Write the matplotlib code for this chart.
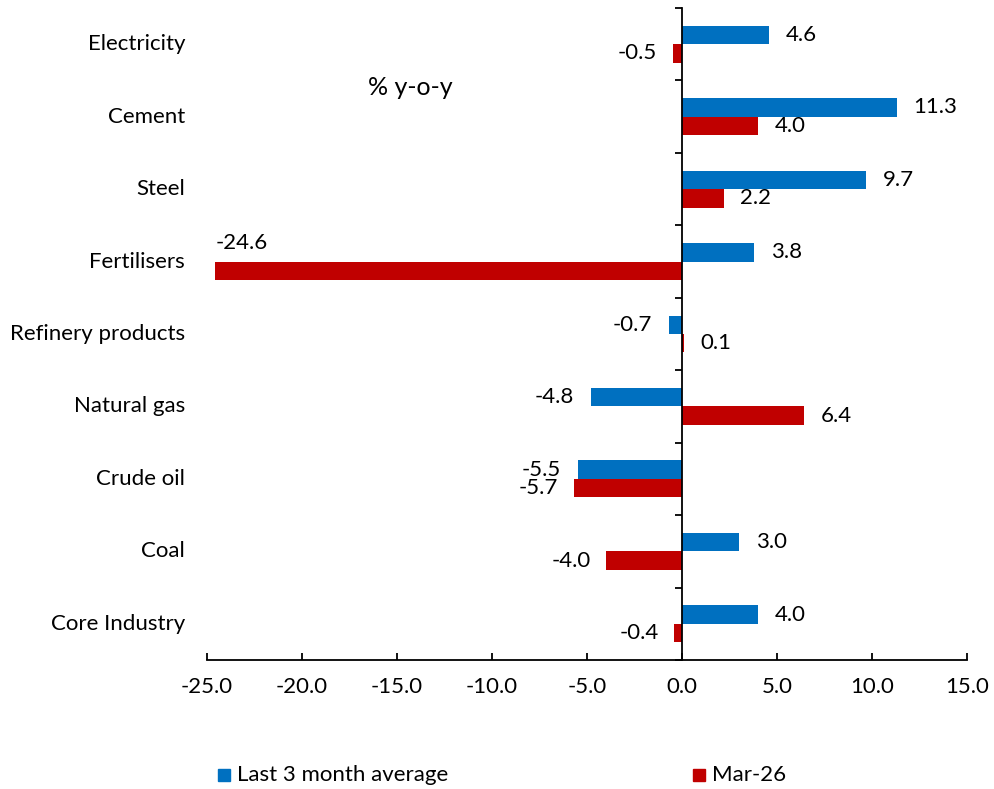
import numpy as np
import matplotlib.pyplot as plt
import matplotlib.transforms as mtransforms
from matplotlib.patches import Rectangle

plt.rcParams['font.family'] = ['Lato', 'DejaVu Sans']

categories = ['Electricity', 'Cement', 'Steel', 'Fertilisers', 'Refinery products',
              'Natural gas', 'Crude oil', 'Coal', 'Core Industry']
last3m = [4.6, 11.3, 9.7, 3.8, -0.7, -4.8, -5.5, 3.0, 4.0]
mar26 = [-0.5, 4.0, 2.2, -24.6, 0.1, 6.4, -5.7, -4.0, -0.4]
xticks = [-25, -20, -15, -10, -5, 0, 5, 10, 15]

blue = '#0070C0'
red = '#C00000'
fs = 16

fig = plt.figure(figsize=(9.94, 7.89), dpi=100)
ax = fig.add_axes([207 / 994, 1 - 660 / 789, 760 / 994, 652 / 789])

y = np.arange(len(categories))
h = 0.255
ax.barh(y - h / 2, last3m, height=h, color=blue)
ax.barh(y + h / 2, mar26, height=h, color=red)

ax.set_xlim(-25, 15)
ax.set_ylim(len(categories) - 0.5, -0.5)

# value labels
for yi, v in zip(y - h / 2, last3m):
    ax.annotate(f'{v:.1f}', (v, yi), xytext=(12 if v >= 0 else -12, 0),
                textcoords='offset points', ha='left' if v >= 0 else 'right',
                va='center', fontsize=fs)
for i, (yi, v) in enumerate(zip(y + h / 2, mar26)):
    if categories[i] == 'Fertilisers':
        ax.annotate(f'{v:.1f}', (v, yi), xytext=(1, 20), textcoords='offset points',
                    ha='left', va='center', fontsize=fs)
        continue
    ax.annotate(f'{v:.1f}', (v, yi), xytext=(12 if v >= 0 else -11, 0),
                textcoords='offset points', ha='left' if v >= 0 else 'right',
                va='center', fontsize=fs)

# category labels at left edge
trans = mtransforms.blended_transform_factory(ax.transAxes, ax.transData)
for yi, c in zip(y, categories):
    ax.text(-22 / 760, yi, c, transform=trans, ha='right', va='center', fontsize=fs)

ax.text(-14.3, 0.6, '% y-o-y', ha='center', va='center', fontsize=18)

for s in ['top', 'right']:
    ax.spines[s].set_visible(False)
ax.spines['left'].set_position(('data', 0))
for s in ['left', 'bottom']:
    ax.spines[s].set_linewidth(1.3)

ax.set_yticks([])
ax.set_yticks(np.arange(-0.5, len(categories), 1.0), minor=True)
ax.tick_params(axis='y', which='minor', direction='out', length=5, width=1.3, labelleft=False)
ax.set_xticks(xticks)
ax.set_xticklabels([f'{t:.1f}' for t in xticks], fontsize=fs)
ax.tick_params(axis='x', direction='in', length=5, width=1.3, pad=12)

# legend drawn at the bottom
fig.patches.append(Rectangle((218 / 994, 1 - 781 / 789), 12 / 994, 12 / 789,
                             transform=fig.transFigure, color=blue))
fig.text(237 / 994, 1 - 775 / 789, 'Last 3 month average', fontsize=fs, va='center')
fig.patches.append(Rectangle((693 / 994, 1 - 781 / 789), 12 / 994, 12 / 789,
                             transform=fig.transFigure, color=red))
fig.text(712 / 994, 1 - 775 / 789, 'Mar-26', fontsize=fs, va='center')

fig.savefig('out.png', dpi=100)
